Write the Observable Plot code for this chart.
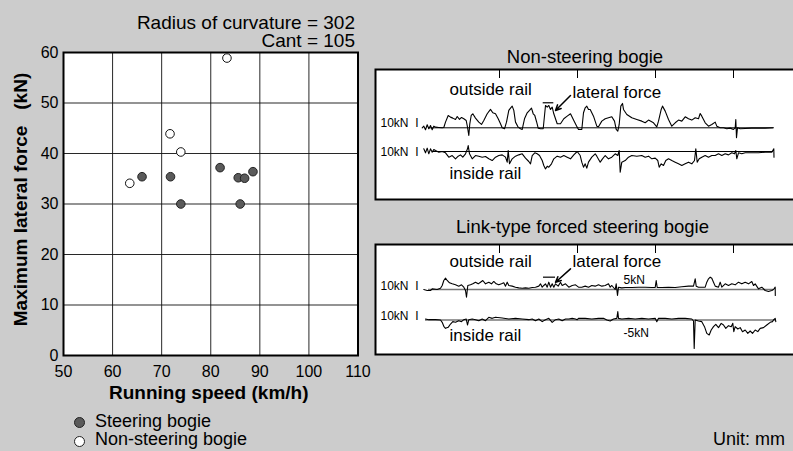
<!DOCTYPE html>
<html><head><meta charset="utf-8">
<script src="https://cdn.jsdelivr.net/npm/d3@7"></script>
<script src="https://cdn.jsdelivr.net/npm/@observablehq/plot@0.6"></script>
<style>
html,body{margin:0;padding:0;background:#cccccc;}
#root{position:relative;width:793px;height:451px;overflow:hidden;background:#cccccc;font-family:"Liberation Sans",Arial,Helvetica,sans-serif;color:#000;}
.abs{position:absolute;line-height:1;white-space:nowrap;}
.dotk{position:absolute;width:9px;height:9px;border-radius:50%;border:1px solid #222;}
</style></head><body><div id="root"></div>
<script>
// ---------- scatter data ----------
const radius = 302;
const cant = 105;
const xTicks = [50, 60, 70, 80, 90, 100, 110];
const yTicks = [0, 10, 20, 30, 40, 50, 60];
const steeringSpeed = [66.0, 71.8, 73.9, 81.9, 85.6, 86.0, 86.9, 88.6];
const steeringForce = [35.4, 35.4, 30.0, 37.2, 35.2, 30.0, 35.1, 36.4];
const nonSteeringSpeed = [63.5, 71.7, 73.9, 83.3];
const nonSteeringForce = [34.1, 43.9, 40.3, 58.9];

// ---------- waveform data: [position along record, lateral force kN] ----------
const markerPos = [79, 157, 235, 313];
const nsOutside = [[1.7,0],[3.3,3.0],[5,-3.6],[6.7,5.5],[8.3,-1.8],[10,4.2],[11.7,-3.6],[13.3,3.0],[15,1.2],[18.3,0.6],[21.7,0],[23.3,0.6],[25,10.3],[27.7,22.4],[30,19.4],[32.3,17.6],[35,15.2],[36.7,20.6],[39,15.2],[41,18.8],[43.3,16.4],[45.7,13.3],[47,1.2],[48.3,-14],[49.3,7.3],[50.7,22.4],[52.3,25.5],[55,17.6],[58.3,10.3],[61,6.1],[63.3,13.3],[66.7,25.5],[70,33.4],[72.3,27.3],[75,25.5],[77.7,16.4],[80,7.3],[81.7,0],[84,-1.8],[86,10.3],[88.3,31.6],[90,35.8],[91.7,39.4],[93.3,31.6],[95,10.3],[97.7,1.2],[100,-1.8],[101.7,-3.0],[104,16.4],[106.7,27.3],[109,31.6],[111,35.8],[112.7,25.5],[114.3,22.4],[116,11.5],[117.7,-0.6],[120,-1.8],[122.7,-1.8],[125,40.6],[126.7,37.6],[128.3,40.6],[130,33.4],[131.7,37.6],[133.3,25.5],[136.7,7.3],[140,7.3],[143.3,16.4],[146.7,21.2],[150,25.5],[153.3,13.3],[156.7,1.2],[158,-3.0],[161.3,-3.0],[163,27.3],[164.7,36.4],[166.3,39.4],[168,33.4],[169.7,33.4],[173,21.2],[176.3,3.0],[178,1.8],[181.3,12.1],[184.7,16.4],[188,18.2],[191.3,20.0],[194,12.1],[195.7,-3.0],[197.3,-6.1],[198.7,6.1],[200.3,39.4],[202,44.3],[203,33.4],[206.3,24.3],[211.3,18.2],[216.3,15.2],[221.3,12.1],[224.7,9.1],[228,14.0],[233,9.1],[236.3,1.8],[238,12.1],[240.7,33.4],[242,39.4],[244.7,30.3],[248,15.2],[251.3,3.0],[254.7,9.1],[258,14.0],[261.3,12.1],[264.7,20.0],[268,16.4],[271.3,14.0],[274.7,18.2],[278,16.4],[279.7,26.1],[281.3,21.2],[284.7,9.1],[288,3.0],[291.3,6.1],[294.7,10.3],[296.3,3.0],[299.7,0],[303,0],[306.3,-1.8],[309.7,-0.6],[313,-3.0],[314.7,0],[315.3,15.2],[316,-18.2],[317,0],[319.7,-1.8],[324.7,-1.2],[331.3,-0.6],[338,-0.6],[344.7,-0.6],[353,0]];
const nsInside = [[3.3,4.9],[5,-2.4],[6.7,6.1],[8.3,-4.2],[10,4.9],[11.7,-1.2],[13.3,3.6],[15,1.8],[18.3,-1.2],[21.7,0],[25,-2.4],[28.3,-10.3],[31.7,-7.3],[35,-13.3],[37.7,-8.5],[40,-6.1],[42.3,-10.3],[45,-4.2],[47,4.9],[47.7,10.9],[49,-4.2],[51.7,-13.3],[55,-7.3],[58.3,-8.5],[61.7,-10.3],[65,-9.1],[68.3,-13.3],[71.7,-16.4],[75,-10.3],[78.3,-7.3],[81.7,-6.1],[85,-10.3],[86.7,-19.4],[87.7,1.8],[89,-22.4],[91.7,-13.3],[95,-8.5],[98.3,-6.1],[101.7,-4.2],[105,-12.1],[108.3,-18.2],[110,-22.4],[111.7,-7.3],[114.3,-2.4],[116.7,-4.2],[119,-7.3],[121.7,-16.4],[123.3,-25.5],[125,-31.6],[126.7,-26.7],[128.3,-28.5],[131,-22.4],[133.3,-13.3],[136.7,-8.5],[140,-10.3],[143.3,-7.3],[146.7,-10.3],[150,-13.3],[153.3,-6.1],[156.7,0],[159.7,-7.3],[161.3,-19.4],[163,-28.5],[164.7,-22.4],[166.3,-30.3],[168,-19.4],[171.3,-10.3],[174.7,-4.2],[176.3,-8.5],[179.7,-19.4],[182,-13.3],[184.7,-7.3],[188,-13.3],[191.3,-10.3],[194.7,-4.2],[197.3,-7.3],[198.7,1.8],[199.7,-37.6],[201.3,-19.4],[204.7,-16.4],[208,-10.3],[211.3,-7.3],[216.3,-8.5],[221.3,-7.3],[224.7,-10.3],[228,-8.5],[231.3,-13.3],[234.7,-12.1],[237.3,-16.4],[238.7,-28.5],[240.7,-22.4],[243,-25.5],[245.3,-16.4],[248,-13.3],[251.3,-16.4],[254.7,-19.4],[258,-22.4],[261.3,-25.5],[264.7,-22.4],[268,-19.4],[271.3,-22.4],[274,-16.4],[275.3,4.9],[276.7,-19.4],[278.7,-13.3],[281.3,-10.3],[284.7,-7.3],[288,-10.3],[291.3,-7.3],[294.7,-7.3],[298,-4.2],[301.3,-7.3],[304.7,-4.2],[308,-6.1],[311.3,-2.4],[314,-4.2],[315.3,1.8],[316.3,-13.3],[318,-2.4],[321.3,-4.2],[324.7,-2.4],[331.3,-2.4],[338,-2.4],[344.7,-1.2],[351.3,-1.2],[353.3,4.9],[353.5,-10.3]];
const lsOutside = [[3.3,0],[6.7,-1.8],[10,-1.8],[11.7,1.2],[16.7,0],[20,2.4],[21.7,7.3],[23.3,16.4],[25,20.6],[26.7,16.4],[29,12.1],[31.7,10.3],[35,8.5],[38.3,6.1],[41,8.5],[43.3,4.2],[45,-1.8],[46,-14.0],[47.3,7.3],[50,8.5],[52.3,10.3],[55,13.3],[57.7,10.3],[60,13.3],[62.3,16.4],[65,10.3],[68.3,13.3],[71,10.3],[73.3,14.6],[75.7,10.3],[78.3,8.5],[81,10.3],[83.3,12.1],[85,6.1],[86.7,13.3],[88.3,7.3],[91.7,6.1],[95,4.2],[98.3,3.0],[101.7,2.4],[105,3.0],[108.3,2.4],[111.7,3.6],[115,4.2],[118.3,6.1],[120,10.3],[121.7,4.2],[123.3,7.3],[125,10.3],[126.7,4.2],[128.3,13.3],[130,4.2],[131.7,10.3],[133.3,4.2],[135,10.3],[137.7,6.1],[140,13.3],[141.7,7.3],[145,10.3],[148.3,4.2],[151.7,7.3],[155,8.5],[156.7,6.1],[158,4.2],[161.3,4.2],[164.7,6.1],[168,4.2],[171.3,7.3],[174.7,6.1],[178,8.5],[181.3,6.1],[184.7,7.3],[188,10.3],[189.7,4.2],[191.3,7.3],[194.7,0],[195.7,10.3],[197,-10.9],[198,4.2],[201.3,3.0],[204.7,3.6],[211.3,3.6],[218,4.2],[224.7,4.2],[231.3,3.6],[234.7,3.6],[235.7,16.4],[236.7,3.6],[241.3,3.6],[248,4.2],[254.7,3.6],[261.3,4.9],[268,6.1],[273,6.1],[274.7,19.4],[275.7,6.1],[278,4.2],[284.7,4.2],[286.3,13.3],[288,19.4],[289.7,22.4],[291.3,20.6],[293,13.3],[294.7,6.1],[298,4.2],[299.7,13.3],[301.3,4.2],[304.7,10.3],[308,7.3],[311.3,10.3],[314.7,8.5],[318,13.3],[321.3,10.3],[324.7,13.3],[328,10.3],[331.3,14.6],[333,7.3],[334.7,10.3],[338,1.2],[341.3,4.2],[344.7,-1.8],[348,-3.6],[351.3,-1.8],[353,0],[354.7,4.2],[354.8,-10.9]];
const lsInside = [[5,1.8],[8.3,0.6],[15,0.6],[20,0],[21.7,-4.2],[23.3,-11.5],[25,-15.2],[27.7,-13.3],[30,-7.3],[32.3,-3.0],[35,-4.2],[38.3,-1.2],[41,-3.0],[43.3,0.6],[45.7,1.8],[47,-9.1],[48.3,0.6],[51.7,1.8],[55,0.6],[58.3,-1.2],[61.7,1.8],[65,-1.2],[68.3,4.9],[71.7,3.0],[75,4.9],[81.7,3.6],[88.3,1.8],[95,3.0],[101.7,1.8],[108.3,0.6],[111.7,1.8],[115,-1.2],[118.3,1.8],[121.7,-3.0],[125,0.6],[128.3,3.0],[131.7,-4.2],[135,0.6],[138.3,1.8],[141.7,-1.2],[145,1.8],[148.3,1.8],[151.7,3.0],[155,1.8],[156.7,0.6],[158,3.0],[164.7,3.0],[171.3,1.8],[178,3.0],[183,3.0],[186.3,0],[189.7,-1.8],[193,1.8],[196.3,3.0],[197.3,15.2],[198,3.0],[201.3,1.8],[208,3.0],[214.7,1.8],[221.3,3.0],[228,1.8],[234.7,3.0],[236.3,-3.0],[238,3.0],[244.7,3.0],[251.3,1.8],[258,3.0],[264.7,3.0],[271.3,1.8],[273,-1.8],[273.7,-51.6],[274.7,0],[278,-1.8],[281.3,-3.0],[284,-12.1],[286.3,-24.3],[288.7,-27.3],[290.7,-18.2],[293,-12.1],[295.3,-7.9],[298,-13.9],[300.7,-6.1],[303,-9.1],[305.3,-15.2],[308,-10.3],[310.7,-12.1],[312.3,-6.1],[313.3,-21.2],[314.7,-12.1],[317.3,-16.4],[319.7,-13.9],[322,-21.2],[324.7,-18.2],[327.3,-24.3],[329.7,-20.0],[332,-24.3],[334.7,-18.2],[337.3,-21.2],[339.7,-15.2],[343,-13.9],[346.3,-9.1],[349.7,-4.2],[352,-3.0],[353,0],[354.7,3.0],[355.3,-3.0]];

const FONT = '"Liberation Sans", Arial, Helvetica, sans-serif';
const root = document.getElementById("root");

function place(el, left, top) {
  el.style.position = "absolute";
  el.style.left = left + "px";
  el.style.top = top + "px";
  el.style.background = "transparent";
  el.style.overflow = "visible";
  el.style.maxWidth = "none";
  root.appendChild(el);
  return el;
}

// ---------- scatter plot ----------
const steering = steeringSpeed.map((s, i) => ({speed: s, force: steeringForce[i]}));
const nonSteering = nonSteeringSpeed.map((s, i) => ({speed: s, force: nonSteeringForce[i]}));

const scatter = Plot.plot({
  width: 375, height: 410,
  marginLeft: 63, marginTop: 52, marginRight: 17.5, marginBottom: 55,
  x: {domain: [50, 110]},
  y: {domain: [0, 60]},
  style: {fontFamily: FONT, fontSize: "16px", color: "#000", background: "transparent", overflow: "visible"},
  marks: [
    Plot.frame({fill: "white"}),
    Plot.gridX(xTicks, {stroke: "#111", strokeOpacity: 0.9, strokeWidth: 1}),
    Plot.gridY(yTicks, {stroke: "#111", strokeOpacity: 0.9, strokeWidth: 1}),
    Plot.frame({stroke: "#000", strokeWidth: 2}),
    Plot.axisX(xTicks, {tickSize: 0, tickPadding: 10, label: null, fontSize: 16}),
    Plot.axisY(yTicks, {tickSize: 0, tickPadding: 5, label: null, fontSize: 16}),
    Plot.dot(nonSteering, {x: "speed", y: "force", r: 4.3, fill: "white", stroke: "#111", strokeWidth: 1}),
    Plot.dot(steering, {x: "speed", y: "force", r: 4.3, fill: "#5a5a5a", stroke: "#222", strokeWidth: 1}),
    Plot.text(["Running speed (km/h)"], {frameAnchor: "bottom", lineAnchor: "bottom", dy: 43, dx: -2, fontWeight: "bold", fontSize: 19}),
    Plot.text(["Maximum lateral force\u00a0\u00a0\u00a0(kN)"], {frameAnchor: "left", textAnchor: "middle", lineAnchor: "middle", rotate: -90, dx: -43, dy: -4.5, fontWeight: "bold", fontSize: 19}),
    Plot.text([`Radius of curvature = ${radius}\nCant = ${cant}`], {frameAnchor: "top-right", textAnchor: "end", lineAnchor: "bottom", lineHeight: 0.97, dx: -3, dy: -5.5, fontSize: 19})
  ]
});
place(scatter, 0, 0);

// ---------- waveform panels ----------
const X = {domain: [-46, 379], range: [0, 425], axis: null};
const PW = 425;

function tracePlot({height, base, data, frame, labels, zeroFrom, zeroTo, zeroStroke, zeroWidth, arrow, bar}) {
  const marks = [];
  if (frame) {
    marks.push(Plot.frame({fill: "white", stroke: "#000", strokeWidth: 2, inset: 1}));
    marks.push(Plot.ruleX(markerPos, {insetTop: 2, insetBottom: height - 10, stroke: "#000", strokeWidth: 1}));
  }
  marks.push(Plot.ruleY([0], {x1: zeroFrom, x2: zeroTo, stroke: zeroStroke, strokeWidth: zeroWidth}));
  marks.push(Plot.line(data, {x: d => d[0], y: d => d[1], stroke: "#000", strokeWidth: 1.1, curve: "linear"}));
  if (bar) marks.push(Plot.ruleY([bar.y], {x1: bar.x1, x2: bar.x2, stroke: "#000", strokeWidth: 1.2}));
  if (arrow) marks.push(Plot.arrow([arrow], {x1: "x1", y1: "y1", x2: "x2", y2: "y2", stroke: "#000", strokeWidth: 1.5, headLength: 6, headAngle: 50}));
  for (const l of labels) {
    marks.push(Plot.text([l], {x: "x", y: "y", text: "t", textAnchor: "start", lineAnchor: "bottom", fontSize: l.size, fill: "#000"}));
  }
  const el = Plot.plot({
    width: PW, height, margin: 0,
    x: X,
    y: {domain: [0, 10], range: [base, base - 5.5], axis: null},
    style: {fontFamily: FONT, background: "transparent", overflow: "visible"},
    marks
  });
  return el;
}

// Panel 1: Non-steering bogie
place(tracePlot({
  height: 132, base: 59.3, data: nsOutside, frame: true,
  zeroFrom: 8, zeroTo: 353, zeroStroke: "#000", zeroWidth: 1,
  bar: {y: 45.5, x1: 122.7, x2: 133.3},
  arrow: {x1: 150, y1: 58.7, x2: 135, y2: 31.5},
  labels: [
    {x: 29, y: 60.5, t: "outside rail", size: 17},
    {x: 152, y: 54.5, t: "lateral force", size: 17},
    {x: -40, y: 1.1, t: "10kN\u00a0\u00a0I", size: 12}
  ]
}), 374, 68);
place(tracePlot({
  height: 132, base: 83, data: nsInside, frame: false,
  zeroFrom: 13, zeroTo: 353, zeroStroke: "#000", zeroWidth: 1,
  labels: [
    {x: -40, y: -9, t: "10kN\u00a0\u00a0I", size: 12},
    {x: 29, y: -49.6, t: "inside rail", size: 17}
  ]
}), 374, 68);

// Panel 2: Link-type forced steering bogie
place(tracePlot({
  height: 112, base: 46, data: lsOutside, frame: true,
  zeroFrom: 8, zeroTo: 353, zeroStroke: "#777", zeroWidth: 1.5,
  bar: {y: 22.4, x1: 123, x2: 135},
  arrow: {x1: 150, y1: 37.6, x2: 135, y2: 13.3},
  labels: [
    {x: 29, y: 40.5, t: "outside rail", size: 17},
    {x: 152, y: 40.5, t: "lateral force", size: 17},
    {x: 203, y: 10.9, t: "5kN", size: 12},
    {x: -40, y: -1.3, t: "10kN\u00a0\u00a0I", size: 12}
  ]
}), 374, 243);
place(tracePlot({
  height: 112, base: 76.5, data: lsInside, frame: false,
  zeroFrom: 5, zeroTo: 355, zeroStroke: "#777", zeroWidth: 1.5,
  labels: [
    {x: -40, y: -0.4, t: "10kN\u00a0\u00a0I", size: 12},
    {x: 203, y: -30, t: "-5kN", size: 12},
    {x: 29, y: -37.3, t: "inside rail", size: 17}
  ]
}), 374, 243);

// ---------- HTML texts ----------
function txt(s, left, top, size, extra) {
  const d = document.createElement("div");
  d.className = "abs";
  d.textContent = s;
  d.style.left = left + "px";
  d.style.top = top + "px";
  d.style.fontSize = size + "px";
  if (extra) Object.assign(d.style, extra);
  root.appendChild(d);
  return d;
}
txt("Non-steering bogie", 385, 47.6, 18.5, {width: "400px", textAlign: "center"});
txt("Link-type forced steering bogie", 382.5, 217.6, 18.5, {width: "400px", textAlign: "center"});
txt("Steering bogie", 95, 411.8, 18);
txt("Non-steering bogie", 95, 429.8, 18);
txt("Unit: mm", 0, 429.8, 18, {left: "auto", right: "8px"});

function legendDot(cx, cy, fill) {
  const d = document.createElement("div");
  d.className = "dotk";
  d.style.left = (cx - 5.5) + "px";
  d.style.top = (cy - 5.5) + "px";
  d.style.background = fill;
  root.appendChild(d);
}
legendDot(79, 422.5, "#5a5a5a");
legendDot(79, 441, "#ffffff");
</script></body></html>
